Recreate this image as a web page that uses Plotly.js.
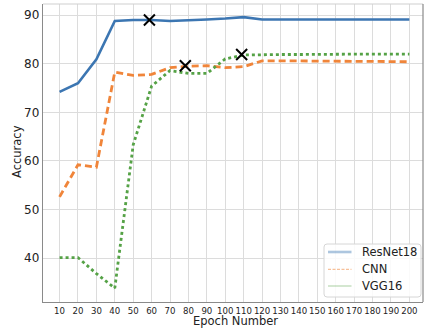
<!DOCTYPE html>
<html><head><meta charset="utf-8">
<script src="https://cdn.plot.ly/plotly-3.0.1.min.js"></script>
<style>html,body{margin:0;padding:0;background:#fff}#c{width:424px;height:328px}</style>
</head><body><div id="c"></div>
<script>
const epochs = [10,20,30,40,50,60,70,80,90,100,110,120,130,140,150,160,170,180,190,200];
const resnet18 = [74.2,76.0,80.9,88.8,89.0,89.0,88.8,88.9,89.1,89.3,89.6,89.1,89.1,89.1,89.1,89.1,89.1,89.1,89.1,89.1];
const cnn = [52.6,59.2,58.7,78.3,77.6,77.8,79.2,79.5,79.6,79.2,79.4,80.6,80.6,80.6,80.55,80.5,80.5,80.45,80.45,80.4];
const vgg16 = [40.1,40.1,36.8,33.8,63.3,75.4,78.6,78.0,78.0,81.0,81.8,81.9,81.9,81.9,81.95,81.95,81.95,82.0,82.0,82.0];
const markX = [58.8,78.3,108.9];
const markY = [89.0,79.6,81.9];
const tickLabels = epochs.map(String);
const seriesNames = ['ResNet18','CNN','VGG16'];

const F = 'DejaVu Sans, sans-serif';
const L = 43, T = 4, W = 380, H = 298;
const px = v => (v - L) / W;
const py = v => (T + H - v) / H;

const traces = [
  {x:epochs,y:resnet18,mode:'lines',name:seriesNames[0],line:{color:'#3c76b2',width:2.6}},
  {x:epochs,y:cnn,mode:'lines',name:seriesNames[1],line:{color:'#f0853a',width:2.8,dash:'7px,4px'}},
  {x:epochs,y:vgg16,mode:'lines',name:seriesNames[2],line:{color:'#55a246',width:2.8,dash:'dot'}},
  {x:markX,y:markY,mode:'markers',marker:{symbol:'x-thin',size:11,color:'#000',line:{width:2,color:'#000'}}}
];

// manual legend (matplotlib-like)
const bx0 = px(324), bx1 = px(421), by0 = py(297), by1 = py(244);
const rx = 3 / W, ry = 3 / H;
const boxPath = `M ${bx0+rx},${by0} L ${bx1-rx},${by0} Q ${bx1},${by0} ${bx1},${by0+ry} L ${bx1},${by1-ry} Q ${bx1},${by1} ${bx1-rx},${by1} L ${bx0+rx},${by1} Q ${bx0},${by1} ${bx0},${by1-ry} L ${bx0},${by0+ry} Q ${bx0},${by0} ${bx0+rx},${by0} Z`;
const rowsY = [252, 269.3, 286];
const legLines = [
  {color:'rgba(60,118,178,0.42)',width:2.6,dash:'solid'},
  {color:'rgba(240,133,58,0.65)',width:1,dash:'3px,1.5px'},
  {color:'rgba(85,162,70,0.5)',width:1,dash:'solid'}
];
const shapes = [
  {type:'line',xref:'paper',yref:'paper',x0:0,x1:1,y0:1,y1:1,line:{color:'#cfcfcf',width:1.2}},
  {type:'line',xref:'paper',yref:'paper',x0:1,x1:1,y0:0,y1:1,line:{color:'#8a8a8a',width:1.2}},
  {type:'path',xref:'paper',yref:'paper',path:boxPath,fillcolor:'rgba(255,255,255,0.85)',line:{color:'#d6d6d6',width:1}}
];
const annotations = [
  {xref:'paper',yref:'paper',x:px(17),y:py(152),text:'Accuracy',textangle:-90,showarrow:false,font:{size:11.5,color:'#222'},xanchor:'center',yanchor:'middle'},
  {xref:'paper',yref:'paper',x:px(235),y:py(321),text:'Epoch Number',showarrow:false,font:{size:11.5,color:'#222'},xanchor:'center',yanchor:'middle'}
];
seriesNames.forEach((n,i)=>{
  shapes.push({type:'line',xref:'paper',yref:'paper',x0:px(328),x1:px(351.5),y0:py(rowsY[i]),y1:py(rowsY[i]),line:legLines[i]});
  annotations.push({xref:'paper',yref:'paper',x:px(360),y:py(rowsY[i]),text:n,showarrow:false,xanchor:'left',yanchor:'middle',font:{size:11.5,color:'#222'}});
});

const layout = {
  width:424,height:328,
  margin:{l:L,r:1,t:T,b:26},
  paper_bgcolor:'#fff',plot_bgcolor:'#fff',
  font:{family:F,color:'#222'},
  showlegend:false,
  xaxis:{range:[1,207.4],tickvals:epochs,ticktext:tickLabels,tickangle:0,tickfont:{size:8.6,color:'#222'},
    showgrid:true,gridcolor:'#dcdcdc',gridwidth:1,zeroline:false,showline:true,linecolor:'#8a8a8a',linewidth:1.2,
    ticks:'',automargin:false},
  yaxis:{range:[30.95,92.3],tickvals:[40,50,60,70,80,90],tickfont:{size:12,color:'#222'},
    showgrid:true,gridcolor:'#dcdcdc',gridwidth:1,zeroline:false,showline:true,linecolor:'#8a8a8a',linewidth:1.2,
    ticks:'',automargin:false},
  shapes:shapes,
  annotations:annotations
};
Plotly.newPlot('c',traces,layout,{displayModeBar:false,staticPlot:true});
</script></body></html>
